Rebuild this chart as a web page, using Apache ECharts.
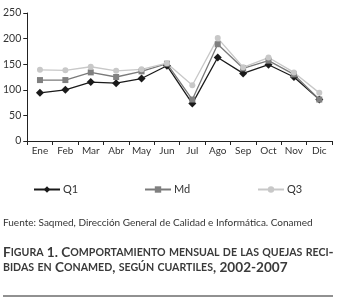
<!DOCTYPE html>
<html>
<head>
<meta charset="utf-8">
<script src="https://cdn.jsdelivr.net/npm/echarts@6/dist/echarts.min.js"></script>
<style>
  html, body { margin: 0; padding: 0; background: #fff; }
  #chart { width: 338px; height: 302px; }
</style>
</head>
<body>
<div id="chart"></div>
<script>
// meses y cuartiles
const months = ['Ene', 'Feb', 'Mar', 'Abr', 'May', 'Jun', 'Jul', 'Ago', 'Sep', 'Oct', 'Nov', 'Dic'];
const q1 = [94, 100, 115, 113, 122, 147, 73, 163, 132, 149, 125, 81];
const md = [119, 119, 134, 125, 136, 151, 81, 189, 142, 157, 130, 81];
const q3 = [139, 138, 145, 137, 140, 152, 109, 201, 144, 163, 134, 94];
const yTicks = { min: 0, max: 250, interval: 50 };

const sourceText = 'Fuente: Saqmed, Dirección General de Calidad e Informática. Conamed';
const captionLines = [
  'Figura 1. Comportamiento mensual de las quejas reci-',
  'bidas en Conamed, según cuartiles, 2002-2007'
];

const FONT = 'Lato, "Open Sans", sans-serif';

// versalitas: las minúsculas se pasan a mayúsculas más pequeñas
function smallCaps(str) {
  let out = '';
  let run = '';
  let runSmall = null;
  const flush = () => {
    if (run) out += '{' + (runSmall ? 's' : 'b') + '|' + run + '}';
    run = '';
  };
  for (const ch of str) {
    const isSmall = ch !== ch.toUpperCase();
    if (runSmall !== null && isSmall !== runSmall) flush();
    runSmall = isSmall;
    run += isSmall ? ch.toUpperCase() : ch;
  }
  flush();
  return out;
}

const captionRich = {
  b: { fontFamily: FONT, fontSize: 13.6, fontWeight: 'bold', fill: '#3a3a3a', color: '#3a3a3a' },
  s: { fontFamily: FONT, fontSize: 10.6, fontWeight: 'bold', fill: '#3a3a3a', color: '#3a3a3a' }
};

const chart = echarts.init(document.getElementById('chart'));

function legendAt(name, left) {
  return {
    data: [name],
    left: left,
    top: 179,
    itemWidth: 26,
    itemHeight: 8,
    itemGap: 0,
    textStyle: { fontFamily: FONT, fontSize: 11, color: '#333', padding: [0, 0, 0, -2] }
  };
}

chart.setOption({
  animation: false,
  grid: { left: 25, right: 6, top: 13, bottom: 161, containLabel: false },
  legend: [legendAt('Q1', 28), legendAt('Md', 139), legendAt('Q3', 252)],
  xAxis: {
    type: 'category',
    data: months,
    boundaryGap: true,
    axisLine: { lineStyle: { color: '#222', width: 1 } },
    axisTick: { show: true, length: 4, lineStyle: { color: '#222' } },
    axisLabel: { fontFamily: FONT, fontSize: 10, color: '#333', margin: 5, interval: 0 },
    splitLine: { show: false }
  },
  yAxis: {
    type: 'value',
    min: yTicks.min,
    max: yTicks.max,
    interval: yTicks.interval,
    axisLine: { show: true, lineStyle: { color: '#222', width: 1 } },
    axisTick: { show: true, length: 4, lineStyle: { color: '#222' } },
    axisLabel: { fontFamily: FONT, fontSize: 10.5, color: '#333', margin: 6 },
    splitLine: { show: false }
  },
  series: [
    {
      name: 'Q1', type: 'line', data: q1,
      symbol: 'diamond', symbolSize: 8,
      lineStyle: { color: '#1a1a1a', width: 1.3 },
      itemStyle: { color: '#1a1a1a' }
    },
    {
      name: 'Md', type: 'line', data: md,
      symbol: 'rect', symbolSize: 6,
      lineStyle: { color: '#7a7a7a', width: 1.3 },
      itemStyle: { color: '#808080' }
    },
    {
      name: 'Q3', type: 'line', data: q3,
      symbol: 'circle', symbolSize: 6,
      lineStyle: { color: '#c8c8c8', width: 1.3 },
      itemStyle: { color: '#c8c8c8' }
    }
  ],
  graphic: [
    {
      type: 'text', left: 3, top: 218,
      style: { text: sourceText, fontFamily: FONT, fontSize: 10, fill: '#333' }
    },
    {
      type: 'text', left: 3, top: 246,
      style: { text: smallCaps(captionLines[0]), rich: captionRich }
    },
    {
      type: 'text', left: 3, top: 261,
      style: { text: smallCaps(captionLines[1]), rich: captionRich }
    },
    {
      type: 'line', shape: { x1: 3, y1: 296, x2: 333, y2: 296 },
      style: { stroke: '#222', lineWidth: 1 }
    }
  ]
});
</script>
</body>
</html>
